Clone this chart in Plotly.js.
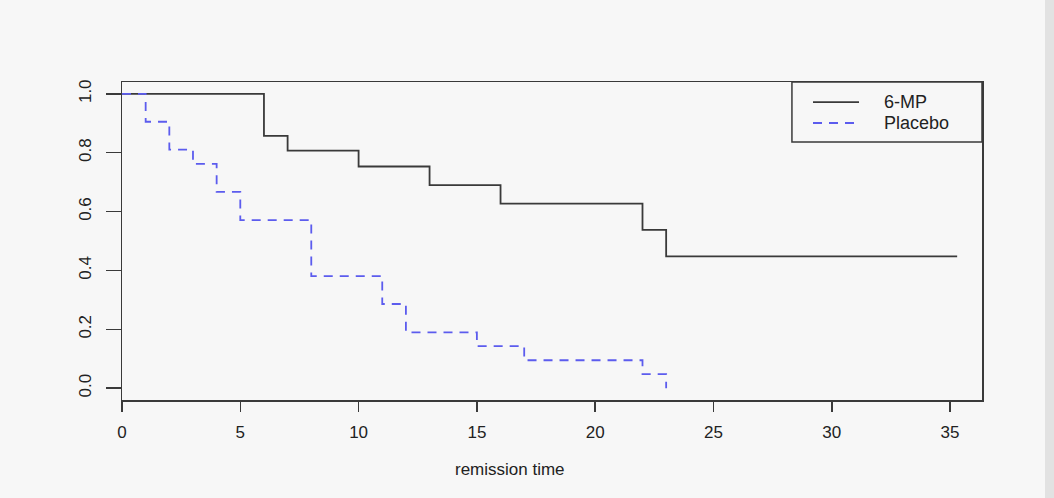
<!DOCTYPE html>
<html>
<head>
<meta charset="utf-8">
<script src="https://cdn.plot.ly/plotly-3.0.1.min.js"></script>
<style>
  html, body { margin: 0; padding: 0; background: #f7f7f7; }
  #wrap { position: relative; width: 1054px; height: 498px; }
  #chart { width: 1054px; height: 498px; }
  #edge { position: absolute; left: 1045px; top: 0; width: 9px; height: 498px; background: #e2e2e2; z-index: 5; }
</style>
</head>
<body>
<div id="wrap"><div id="chart"></div><div id="edge"></div></div>
<script>
// Kaplan-Meier estimates (remission data)
const mpTimes = [0, 6, 7, 10, 13, 16, 22, 23, 35.3];
const mpSurv = [1.0, 0.857, 0.807, 0.753, 0.690, 0.627, 0.538, 0.448, 0.448];
const placeboTimes = [0, 1, 2, 3, 4, 5, 8, 11, 12, 15, 17, 22, 23];
const placeboSurv = [1.0, 0.905, 0.810, 0.762, 0.667, 0.571, 0.381, 0.286, 0.190, 0.143, 0.095, 0.048, 0.0];
const seriesNames = ["6-MP", "Placebo"];
const xTicks = [0, 5, 10, 15, 20, 25, 30, 35];
const yTicks = [0.0, 0.2, 0.4, 0.6, 0.8, 1.0];
const yTickText = ["0.0", "0.2", "0.4", "0.6", "0.8", "1.0"];

const black = "#3a3a3a";
const blue = "#5c5cee";
const font = "Liberation Sans, Arial, Helvetica, sans-serif";

const traces = [
  {
    x: mpTimes, y: mpSurv, type: "scatter", mode: "lines", name: seriesNames[0],
    line: { shape: "hv", color: black, width: 1.8 }, showlegend: false
  },
  {
    x: placeboTimes, y: placeboSurv, type: "scatter", mode: "lines", name: seriesNames[1],
    line: { shape: "hv", color: blue, width: 1.8, dash: "9px,7px" }, showlegend: false
  }
];

// legend drawn in paper coordinates (R-style boxed legend at top right)
const legX0 = 0.779, legY0 = 0.811;
const sampleX0 = 0.8035, sampleX1 = 0.857, textX = 0.8837;
const rowY = [0.937, 0.871];

const shapes = [
  { type: "rect", xref: "paper", yref: "paper", x0: legX0, x1: 1, y0: legY0, y1: 1,
    line: { color: black, width: 1.5 }, fillcolor: "#f7f7f7", layer: "above" },
  { type: "line", xref: "paper", yref: "paper", x0: sampleX0, x1: sampleX1, y0: rowY[0], y1: rowY[0],
    line: { color: black, width: 1.8 } },
  { type: "line", xref: "paper", yref: "paper", x0: sampleX0, x1: sampleX1, y0: rowY[1], y1: rowY[1],
    line: { color: blue, width: 1.8, dash: "9px,7px" } }
];

const annotations = [
  { xref: "paper", yref: "paper", x: textX, y: rowY[0], text: seriesNames[0], showarrow: false,
    xanchor: "left", yanchor: "middle", font: { family: font, size: 18, color: "#222" } },
  { xref: "paper", yref: "paper", x: textX, y: rowY[1], text: seriesNames[1], showarrow: false,
    xanchor: "left", yanchor: "middle", font: { family: font, size: 18, color: "#222" } },
  { xref: "paper", yref: "paper", x: 0.451, y: -0.22, text: "remission time", showarrow: false,
    xanchor: "center", yanchor: "middle", font: { family: font, size: 17, color: "#222" } }
];

const layout = {
  width: 1054, height: 498,
  margin: { l: 122, r: 72, t: 82, b: 98 },
  paper_bgcolor: "#f7f7f7", plot_bgcolor: "#f7f7f7",
  font: { family: font, size: 17, color: "#222" },
  xaxis: {
    range: [0, 36.35], tickvals: xTicks, ticks: "outside", ticklen: 10, tickwidth: 1.5,
    tickcolor: black, showline: true, mirror: true, linecolor: black, linewidth: 1.5,
    showgrid: false, zeroline: false, tickfont: { family: font, size: 17, color: "#222" },
    ticklabelstandoff: 6
  },
  yaxis: {
    range: [-0.04, 1.04], tickvals: yTicks, ticktext: yTickText, ticks: "outside", ticklen: 15,
    tickwidth: 1.5, tickcolor: black, showline: true, mirror: true, linecolor: black, linewidth: 1.5,
    showgrid: false, zeroline: false, tickangle: -90,
    tickfont: { family: font, size: 17, color: "#222" }, ticklabelstandoff: 8
  },
  shapes: shapes,
  annotations: annotations
};

Plotly.newPlot("chart", traces, layout, { staticPlot: true, displayModeBar: false });
</script>
</body>
</html>
